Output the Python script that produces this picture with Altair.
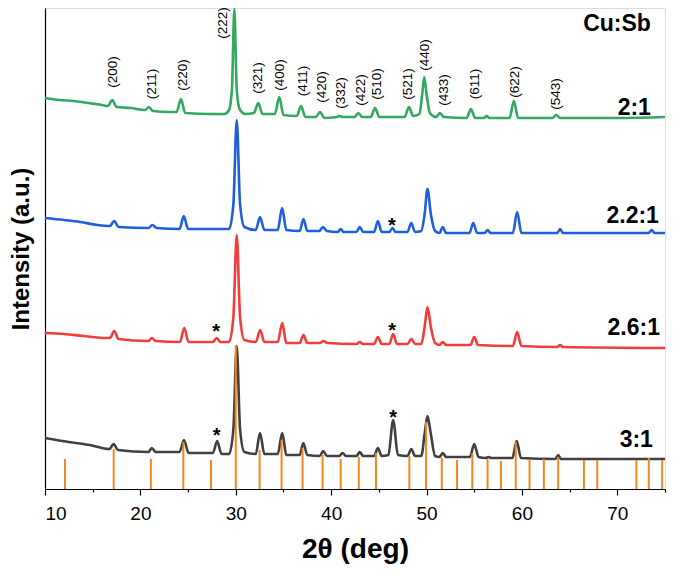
import altair as alt
import pandas as pd

# ---------------- data (2theta in degrees, intensity in a.u. incl. stacking offset) -------------
series_names = ["2:1", "2.2:1", "2.6:1", "3:1"]
series_colors = ["#34A862", "#1E5FDC", "#F23D3D", "#404040"]

green_tt = [10.0, 11.5, 13.0, 14.5, 16.0, 16.6, 17.05, 17.5, 19.0, 20.5, 20.9, 21.3, 23.0, 23.8,
            24.25, 24.7, 27.5, 28.8, 29.3, 29.6, 29.85, 30.1, 30.4, 31.0, 31.9, 32.36, 32.8, 34.1,
            34.56, 35.0, 36.4, 36.84, 37.3, 38.4, 38.83, 39.3, 40.6, 40.9, 41.2, 42.45, 42.85, 43.25,
            44.15, 44.6, 45.05, 47.7, 48.15, 48.6, 49.25, 49.55, 49.76, 50.0, 50.35, 51.0, 51.4, 51.8,
            54.2, 54.65, 55.1, 56.0, 56.3, 56.6, 58.7, 59.16, 59.6, 63.2, 63.6, 64.0, 70.0, 75.0]
green_int = [391, 389, 388, 386, 384, 383, 389, 382, 381, 379, 382, 378, 377, 377,
             390, 376, 375, 375, 379, 400, 480, 400, 380, 375, 376, 386, 375, 375,
             392, 374, 373, 383, 372, 372, 377, 371, 372, 373, 372, 372, 376, 372,
             372, 381, 372, 372, 382, 373, 375, 395, 412, 395, 376, 372, 376, 372,
             371, 380, 371, 371, 373, 371, 371, 388, 371, 371, 374, 371, 371, 372]

blue_tt = [10.0, 12.0, 13.7, 15.5, 16.8, 17.26, 17.7, 20.85, 21.26, 21.7, 24.1, 24.55, 25.0,
           29.3, 29.75, 30.1, 30.45, 30.9, 32.1, 32.54, 33.0, 34.4, 34.86, 35.3, 36.7, 37.1,
           37.5, 38.75, 39.14, 39.55, 40.7, 41.0, 41.3, 42.65, 43.0, 43.35, 44.5, 44.9, 45.3, 46.1,
           46.43, 46.75, 48.0, 48.4, 48.8, 49.45, 49.8, 50.1, 50.45, 50.9, 51.35, 51.7, 52.05, 54.5,
           54.9, 55.3, 56.1, 56.4, 56.7, 59.05, 59.5, 59.95, 63.7, 64.0, 64.3, 73.3, 73.6, 73.9, 75.0]
blue_int = [271, 269, 267, 264, 263, 268, 262, 261, 264, 261, 260, 273, 260,
            260, 285, 369, 285, 262, 259, 272, 259, 259, 281, 259, 258, 270,
            258, 258, 262, 258, 257, 260, 257, 257, 262, 257, 257, 268, 257, 257,
            261, 257, 257, 266, 257, 258, 275, 300, 275, 258, 256, 262, 256, 256,
            266, 256, 256, 259, 256, 256, 277, 256, 256, 260, 256, 256, 259, 256, 256]

red_tt = [10.0, 12.0, 14.0, 16.5, 16.8, 17.26, 17.7, 20.85, 21.2, 21.6, 24.15, 24.6, 25.05,
          27.6, 28.0, 28.4, 29.3, 29.75, 30.1, 30.45, 30.9, 32.1, 32.56, 33.0, 34.4, 34.87,
          35.3, 36.7, 37.1, 37.5, 38.8, 39.2, 39.6, 42.65, 43.0, 43.35, 44.5, 44.9, 45.3, 46.1,
          46.5, 46.9, 48.0, 48.4, 48.8, 49.45, 49.8, 50.1, 50.45, 50.9, 51.35, 51.7, 52.05, 54.6,
          55.0, 55.4, 59.05, 59.5, 59.95, 63.7, 64.0, 64.3, 75.0]
red_int = [156, 155, 153, 151, 151, 158, 150, 148, 151, 148, 147, 161, 147,
           147, 151, 147, 147, 172, 254, 172, 149, 147, 159, 147, 147, 166,
           146, 146, 154, 146, 146, 148, 146, 145, 147, 145, 145, 152, 145, 145,
           155, 145, 145, 150, 145, 145, 162, 182, 162, 146, 144, 147, 144, 144,
           152, 144, 143, 157, 143, 142, 144, 142, 141]

black_tt = [10.0, 12.5, 14.7, 16.75, 17.2, 17.65, 20.85, 21.2, 21.6, 24.1, 24.57, 25.05, 27.6,
            28.05, 28.5, 29.3, 29.75, 30.1, 30.45, 30.9, 32.1, 32.54, 33.0, 34.4, 34.87, 35.3,
            36.7, 37.08, 37.5, 38.8, 39.17, 39.55, 40.85, 41.2, 41.55, 42.65, 43.0, 43.35, 44.5, 44.9,
            45.3, 46.0, 46.5, 47.0, 48.0, 48.4, 48.8, 49.45, 49.8, 50.1, 50.45, 50.9, 51.35, 51.7,
            52.05, 54.55, 55.0, 55.45, 56.2, 56.5, 56.8, 59.0, 59.45, 59.9, 63.5, 63.8, 64.1, 75.0]
black_int = [51, 47, 44, 40, 45, 39, 37, 41, 37, 37, 49, 36, 36,
             48, 35, 35, 60, 143, 60, 37, 35, 56, 35, 35, 56, 34,
             34, 46, 34, 33, 38, 33, 33, 36, 33, 33, 37, 33, 33, 41,
             33, 34, 69, 34, 33, 40, 33, 33, 55, 73, 55, 33, 32, 36,
             32, 32, 45, 32, 31, 32, 31, 31, 48, 31, 30, 34, 30, 30]

# reference pattern sticks
ref_tt = [12.1, 17.2, 21.1, 24.5, 27.4, 30.0, 32.5, 34.8, 37.0, 39.1, 41.0, 42.9, 44.7, 48.2,
          49.95, 51.6, 53.2, 54.8, 56.4, 57.8, 59.35, 60.8, 62.3, 63.8, 66.5, 67.9, 72.0, 73.3, 74.7]
ref_int = [30, 40, 30, 47, 29, 144, 39, 49, 41, 34, 30, 32, 36, 33,
           67, 31, 29, 36, 30, 28, 47, 29, 30, 32, 29, 29, 29, 31, 29]

# Miller index labels (above the 2:1 pattern)
hkl_text = ["(200)", "(211)", "(220)", "(222)", "(321)", "(400)", "(411)", "(420)", "(332)",
            "(422)", "(510)", "(521)", "(440)", "(433)", "(611)", "(622)", "(543)"]
hkl_tt = [17.16, 21.18, 24.43, 28.63, 32.36, 34.63, 37.08, 39.0, 41.03,
          43.09, 44.83, 48.08, 49.83, 51.82, 55.07, 59.27, 63.56]
hkl_int = [417, 405, 414, 466, 411, 414, 408, 402, 396,
           399, 405, 405, 434, 399, 405, 407, 395]

# impurity markers
star_tt = [46.37, 27.95, 46.4, 28.0, 46.5]
star_int = [257, 151, 152, 47, 65]

# series labels (right aligned)
label_text = ["Cu:Sb", "2:1", "2.2:1", "2.6:1", "3:1"]
label_tt = [73.52, 73.52, 74.36, 74.47, 73.73]
label_int = [458, 374, 266, 154, 42]

# ---------------- build tables ----------------
rows = []
for name, tt, iv in [("2:1", green_tt, green_int), ("2.2:1", blue_tt, blue_int),
                     ("2.6:1", red_tt, red_int), ("3:1", black_tt, black_int)]:
    for a, b in zip(tt, iv):
        rows.append({"series": name, "tt": a, "I": b})
lines_df = pd.DataFrame(rows)
ref_df = pd.DataFrame({"tt": ref_tt, "I": ref_int})
hkl_df = pd.DataFrame({"t": hkl_text, "tt": hkl_tt, "I": hkl_int})
star_df = pd.DataFrame({"t": ["*"] * len(star_tt), "tt": star_tt, "I": star_int})
lab_df = pd.DataFrame({"t": label_text, "tt": label_tt, "I": label_int})

FONT = "Liberation Sans"
xscale = alt.Scale(domain=[10, 75], nice=False, zero=False)
yscale = alt.Scale(domain=[0, 481], nice=False, zero=True)

x_axis = alt.Axis(
    values=[10, 15, 20, 25, 30, 35, 40, 45, 50, 55, 60, 65, 70, 75],
    labelExpr="datum.value % 10 === 0 && datum.value < 75 ? datum.label : ''",
    tickSize={"condition": {"test": "datum.value % 10 === 0", "value": 6}, "value": 3},
    tickColor="black", domainColor="black", tickWidth=1.2, domainWidth=1.2,
    labelFont=FONT, labelFontSize=19, labelColor="black", labelPadding=9,
    title="2θ (deg)", titleFont=FONT, titleFontSize=28, titleFontWeight="bold",
    titleColor="black", titlePadding=12, grid=False,
)
y_axis = alt.Axis(labels=False, ticks=False, grid=False, domainColor="black", domainWidth=1.2,
                  title="Intensity (a.u.)", titleFont=FONT, titleFontSize=24,
                  titleFontWeight="bold", titleColor="black", titlePadding=12)

lines = alt.Chart(lines_df).mark_line(strokeWidth=2.6, interpolate="monotone").encode(
    x=alt.X("tt:Q", scale=xscale, axis=x_axis),
    y=alt.Y("I:Q", scale=yscale, axis=y_axis),
    color=alt.Color("series:N", scale=alt.Scale(domain=series_names, range=series_colors),
                    legend=None),
    order=alt.Order("tt:Q"),
)

sticks = alt.Chart(ref_df).mark_rule(color="#F5861F", strokeWidth=2).encode(
    x="tt:Q", y="I:Q", y2=alt.datum(0)
)

hkl = alt.Chart(hkl_df).mark_text(angle=270, align="center", baseline="middle",
                                  font=FONT, fontSize=13.5, color="black").encode(
    x="tt:Q", y="I:Q", text="t:N")

stars = alt.Chart(star_df).mark_text(align="center", baseline="alphabetic", font=FONT,
                                     fontSize=20, fontWeight="bold", color="black").encode(
    x="tt:Q", y="I:Q", text="t:N")

labs = alt.Chart(lab_df).mark_text(align="right", baseline="alphabetic", font=FONT,
                                   fontSize=23, fontWeight="bold", color="black").encode(
    x="tt:Q", y="I:Q", text="t:N")

chart = alt.layer(lines, sticks, hkl, stars, labs).properties(
    width=620, height=481,
    autosize=alt.AutoSizeParams(type="none"),
    padding={"left": 37, "top": 0, "right": 12, "bottom": 90},
).configure_view(stroke="black", strokeWidth=1.2).configure(background="white")

chart.save("out.html", embed_options={"renderer": "svg", "actions": False})
